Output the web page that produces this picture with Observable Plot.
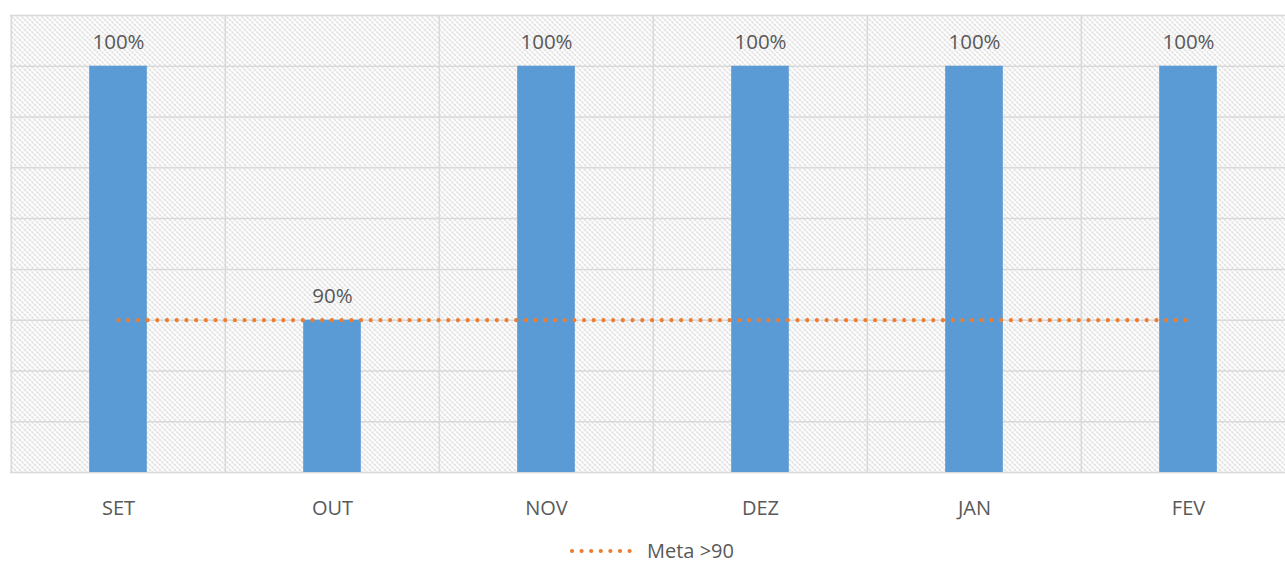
<!DOCTYPE html>
<html>
<head>
<meta charset="utf-8">
<script src="https://cdn.jsdelivr.net/npm/d3@7"></script>
<script src="https://cdn.jsdelivr.net/npm/@observablehq/plot@0.6"></script>
<style>
  html, body { margin: 0; padding: 0; background: #fff; overflow: hidden; width: 1285px; height: 565px; }
  #chart { width: 1296px; }
  #chart svg { display: block; overflow: visible; max-width: none !important; }
  #legend { display: flex; justify-content: center; align-items: center; height: 20px; line-height: 20px; margin-top: 16px; font-family: "Open Sans", sans-serif; font-size: 20px; color: #595959; padding-left: 18px; }
</style>
</head>
<body>
<div id="chart"></div>
<div id="legend"></div>
<script>
const months = ["SET", "OUT", "NOV", "DEZ", "JAN", "FEV"];
const values = [100, 90, 100, 100, 100, 100];
const meta = [90, 90, 90, 90, 90, 90];
const gridValues = [84, 86, 88, 90, 92, 94, 96, 98, 100, 102];
const legendLabel = "Meta >90";

const data = months.map((m, i) => ({month: m, value: values[i], meta: meta[i]}));

const W = 1296;
const step = (W - 10) / months.length;
const barW = 58;
const inset = (step - barW) / 2;
const font = "Open Sans, sans-serif";

const chart = Plot.plot({
  width: W,
  height: 525,
  marginLeft: 10,
  marginRight: 0,
  marginTop: 15,
  marginBottom: 53,
  style: {fontFamily: font, fontSize: "20px", color: "#595959", background: "transparent", maxWidth: "none"},
  x: {domain: months, padding: 0, label: null},
  y: {domain: [84, 102], axis: null},
  marks: [
    Plot.frame({fill: "url(#hatch)", stroke: null}),
    Plot.ruleY(gridValues, {stroke: "#d9d9d9", strokeWidth: 1.5}),
    Plot.ruleX(months, {x: d => d, dx: -step / 2, stroke: "#d9d9d9", strokeWidth: 1.5}),
    Plot.barY(data, {x: "month", y1: 84, y2: "value", fill: "#5B9BD5", insetLeft: inset, insetRight: inset}),
    Plot.text(data, {x: "month", y: "value", text: d => d.value + "%", dy: -24, fill: "#595959", fontSize: 20.5}),
    Plot.lineY(data, {x: "month", y: "meta", stroke: "#ED7D31", strokeWidth: 4.2, strokeDasharray: "0 9.7", strokeLinecap: "round"}),
    Plot.axisX({tickSize: 0, tickPadding: 28, fontSize: 20, fill: "#595959", label: null})
  ]
});
chart.style.maxWidth = "none";

const defs = d3.select(chart).insert("defs", ":first-child");
const pat = defs.append("pattern")
  .attr("id", "hatch").attr("patternUnits", "userSpaceOnUse")
  .attr("width", 5).attr("height", 5);
pat.append("rect").attr("width", 5).attr("height", 5).attr("fill", "#ffffff");
pat.append("path").attr("d", "M-1,-1 L6,6 M-1,4 L1,6 M4,-1 L6,1")
  .attr("stroke", "#c9c9c9").attr("stroke-width", 1.2).attr("stroke-dasharray", "2 1.2");

document.getElementById("chart").appendChild(chart);

const legend = document.getElementById("legend");
legend.innerHTML = `<svg width="64" height="10" style="margin-right:14px"><line x1="3" y1="5" x2="62" y2="5" stroke="#ED7D31" stroke-width="4.2" stroke-dasharray="0 9.6" stroke-linecap="round"/></svg><span>${legendLabel}</span>`;
</script>
</body>
</html>
